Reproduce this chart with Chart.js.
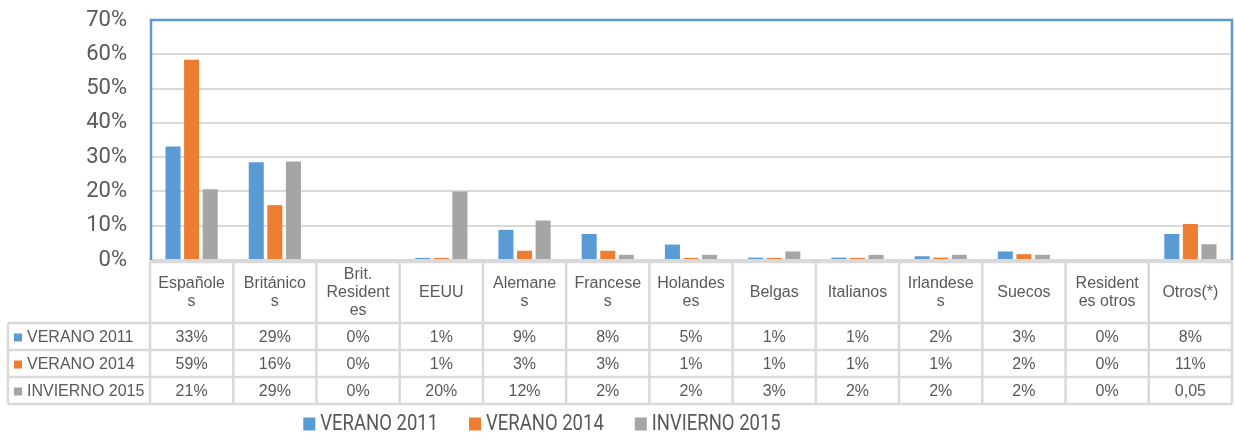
<!DOCTYPE html>
<html>
<head>
<meta charset="utf-8">
<script src="https://cdn.jsdelivr.net/npm/chart.js@4.4.1/dist/chart.umd.min.js"></script>
<style>
  html, body { margin: 0; padding: 0; background: #fff; }
  #wrap { width: 1235px; height: 439px; }
</style>
</head>
<body>
<div id="wrap"><canvas id="chart" width="1235" height="439"></canvas></div>
<script>
// data
const categories = ['Españoles', 'Británicos', 'Brit. Residentes', 'EEUU', 'Alemanes', 'Franceses',
  'Holandeses', 'Belgas', 'Italianos', 'Irlandeses', 'Suecos', 'Residentes otros', 'Otros(*)'];
const seriesNames = ['VERANO 2011', 'VERANO 2014', 'INVIERNO 2015'];
const verano2011   = [33.1, 28.5, 0, 0.6, 8.8, 7.6, 4.5, 0.7, 0.7, 1.1, 2.5, 0, 7.6];
const verano2014   = [58.4, 16.0, 0, 0.6, 2.7, 2.7, 0.6, 0.6, 0.6, 0.7, 1.7, 0, 10.5];
const invierno2015 = [20.6, 28.7, 0, 20.0, 11.5, 1.5, 1.5, 2.5, 1.5, 1.5, 1.5, 0, 4.6];
// text shown in the data table under the chart
const tableVerano2011   = ['33%', '29%', '0%', '1%', '9%', '8%', '5%', '1%', '1%', '2%', '3%', '0%', '8%'];
const tableVerano2014   = ['59%', '16%', '0%', '1%', '3%', '3%', '1%', '1%', '1%', '1%', '2%', '0%', '11%'];
const tableInvierno2015 = ['21%', '29%', '0%', '20%', '12%', '2%', '2%', '3%', '2%', '2%', '2%', '0%', '0,05'];
const yTicks = [0, 10, 20, 30, 40, 50, 60, 70];

const colors = ['#5B9BD5', '#ED7D31', '#A5A5A5'];
const textColor = '#595959';
const lineColor = '#D9D9D9';
const axisFont = "Roboto, 'DejaVu Sans Condensed', sans-serif";
const tableFont = "16px 'Liberation Sans', Arial, sans-serif";

function wrapLabel(ctx, text, maxW) {
	const lines = [];
	let line = '';
	for (const word of text.split(' ')) {
		const test = line ? line + ' ' + word : word;
		if (ctx.measureText(test).width <= maxW) { line = test; continue; }
		if (line) { lines.push(line); line = ''; }
		let rest = word;
		while (ctx.measureText(rest).width > maxW) {
			let k = rest.length;
			while (k > 1 && ctx.measureText(rest.slice(0, k)).width > maxW) k--;
			lines.push(rest.slice(0, k));
			rest = rest.slice(k);
		}
		line = rest;
	}
	if (line) lines.push(line);
	return lines;
}

// blue frame round the plot area
const framePlugin = {
	id: 'frame',
	afterDatasetsDraw(chart) {
		const { ctx, chartArea: a } = chart;
		ctx.save();
		ctx.strokeStyle = '#5B9BD5';
		ctx.lineWidth = 2.5;
		ctx.beginPath();
		ctx.moveTo(a.left + 1, a.bottom);
		ctx.lineTo(a.left + 1, a.top);
		ctx.lineTo(a.right, a.top);
		ctx.lineTo(a.right, a.bottom);
		ctx.stroke();
		ctx.restore();
	}
};

// data table + legend under the plot
const tablePlugin = {
	id: 'dataTable',
	afterDraw(chart) {
		const { ctx, chartArea: a } = chart;
		const xs = chart.scales.x;
		const colW = (a.right - a.left) / categories.length;
		const top = a.bottom + 2;
		const headBottom = top + 61;
		const rowH = 27;
		const rows = [tableVerano2011, tableVerano2014, tableInvierno2015];
		const tableBottom = headBottom + rows.length * rowH;
		const labelLeft = 8;

		ctx.save();
		ctx.strokeStyle = lineColor;
		ctx.lineWidth = 2.5;
		ctx.beginPath();
		ctx.moveTo(a.left, top); ctx.lineTo(a.right, top);
		for (let r = 0; r <= rows.length; r++) {
			const y = headBottom + r * rowH;
			ctx.moveTo(labelLeft, y); ctx.lineTo(a.right, y);
		}
		ctx.moveTo(labelLeft, headBottom); ctx.lineTo(labelLeft, tableBottom);
		for (let i = 0; i <= categories.length; i++) {
			const x = a.left + i * colW;
			ctx.moveTo(x, top); ctx.lineTo(x, tableBottom);
		}
		ctx.stroke();

		ctx.font = tableFont;
		ctx.fillStyle = textColor;
		ctx.textAlign = 'center';
		ctx.textBaseline = 'middle';
		const headMid = (top + headBottom) / 2;
		categories.forEach((c, i) => {
			const cx = xs.getPixelForValue(i);
			const lines = wrapLabel(ctx, c, 69);
			lines.forEach((ln, k) => {
				ctx.fillText(ln, cx, headMid + (k - (lines.length - 1) / 2) * 18);
			});
			rows.forEach((row, r) => {
				ctx.fillText(row[i], cx, headBottom + r * rowH + rowH / 2 + 1);
			});
		});
		ctx.textAlign = 'left';
		seriesNames.forEach((name, r) => {
			const cy = headBottom + r * rowH + rowH / 2 + 1;
			ctx.fillStyle = colors[r];
			ctx.fillRect(14, cy - 4, 8, 8);
			ctx.fillStyle = textColor;
			ctx.fillText(name, 27, cy);
		});

		// legend (narrow light font in the original, so squeeze the text a bit)
		ctx.font = '22px ' + axisFont;
		const squeeze = 0.84;
		const boxW = 12, boxH = 13, textGap = 5, itemGap = 31;
		const textW = seriesNames.map(n => ctx.measureText(n).width * squeeze);
		const widths = textW.map(w => boxW + textGap + w);
		const total = widths.reduce((s, w) => s + w, 0) + itemGap * (widths.length - 1);
		let x = 542 - total / 2;
		const ly = 424;
		seriesNames.forEach((name, i) => {
			ctx.fillStyle = colors[i];
			ctx.fillRect(x, ly - 6.5, boxW, boxH);
			ctx.fillStyle = textColor;
			ctx.fillText(name, x + boxW + textGap, ly, textW[i]);
			x += widths[i] + itemGap;
		});
		ctx.restore();
	}
};

new Chart(document.getElementById('chart'), {
	type: 'bar',
	data: {
		labels: categories,
		datasets: [
			{ label: seriesNames[0], data: verano2011, backgroundColor: colors[0] },
			{ label: seriesNames[1], data: verano2014, backgroundColor: colors[1] },
			{ label: seriesNames[2], data: invierno2015, backgroundColor: colors[2] }
		]
	},
	options: {
		responsive: false,
		animation: false,
		devicePixelRatio: 1,
		categoryPercentage: 0.67,
		barPercentage: 0.81,
		layout: { padding: { top: 20, right: 3, bottom: 0, left: 0 } },
		scales: {
			x: {
				ticks: { display: false },
				grid: { display: false, drawTicks: false },
				border: { color: lineColor, width: 2 },
				afterFit: s => { s.height = 179; }
			},
			y: {
				min: 0,
				max: 70,
				afterBuildTicks: s => { s.ticks = yTicks.map(v => ({ value: v })); },
				ticks: {
					callback: v => v + '%',
					font: { family: axisFont, size: 22 },
					color: textColor,
					padding: 23
				},
				grid: { color: lineColor, lineWidth: 2, drawTicks: false },
				border: { display: false },
				afterFit: s => { s.width = 150; s.paddingTop = 0; s.paddingBottom = 0; }
			}
		},
		plugins: {
			legend: { display: false },
			tooltip: { enabled: false }
		}
	},
	plugins: [framePlugin, tablePlugin]
});
</script>
</body>
</html>
